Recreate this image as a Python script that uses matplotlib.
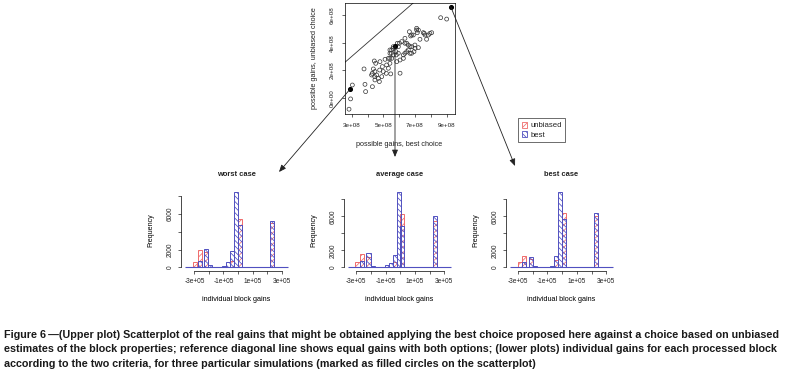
import matplotlib

matplotlib.use("Agg")
import matplotlib.pyplot as plt
import numpy as np
from matplotlib.patches import ConnectionPatch, Patch

plt.rcParams.update(
    {
        "font.family": ["Liberation Sans", "DejaVu Sans"],
        "hatch.linewidth": 0.55,
        "axes.linewidth": 0.5,
        "xtick.major.width": 0.5,
        "ytick.major.width": 0.5,
        "xtick.major.size": 2.5,
        "ytick.major.size": 2.5,
        "text.color": "#222222",
        "xtick.color": "#222222",
        "ytick.color": "#222222",
    }
)

W, H = 807, 380
RED = "#ef6b6b"
BLUE = "#5050c0"

# --- upper scatter: total gains per simulation (units of 1e8) ---
best_gain = [
    2.83, 2.93, 3.04, 3.84, 3.88, 3.78, 4.31, 4.43, 4.52, 4.37, 4.47, 4.26, 4.58, 4.69, 4.75,
    4.47, 4.90, 4.79, 4.94, 5.00, 5.11, 5.21, 5.32, 5.42, 5.42, 5.47, 5.53, 5.63, 5.63, 5.80,
    5.85, 5.89, 5.95, 6.06, 6.02, 6.16, 6.27, 6.37, 6.37, 6.48, 6.58, 6.65, 6.69, 6.73, 6.79,
    6.90, 6.94, 7.00, 7.11, 7.15, 7.22, 7.32, 7.53, 7.64, 7.74, 7.85, 7.95, 8.06, 8.63, 9.01,
    4.30, 4.46, 4.77, 5.19, 5.41, 5.51, 5.61, 5.82, 6.80, 7.11, 7.22, 7.59, 6.37, 6.58, 6.80,
    7.01, 6.48, 6.69, 6.27, 5.95, 5.53, 5.42, 5.32, 6.06,
]
unbiased_gain = [
    -0.84, -0.09, 0.92, 0.97, 0.44, 2.09, 0.80, 2.67, 2.50, 2.09, 1.90, 1.65, 1.65, 1.41, 1.17,
    1.29, 1.53, 2.62, 2.26, 1.90, 2.79, 2.38, 2.14, 2.50, 3.47, 1.73, 2.86, 3.11, 3.71, 3.35,
    2.62, 3.96, 3.23, 1.78, 3.96, 4.08, 2.86, 3.23, 4.32, 3.96, 3.47, 4.80, 3.71, 4.49, 3.23,
    4.56, 3.35, 3.83, 4.92, 4.73, 3.64, 4.25, 4.73, 4.56, 4.25, 4.56, 4.68, 4.73, 5.82, 5.72,
    1.77, 1.53, 2.01, 1.77, 2.86, 3.23, 3.59, 3.11, 4.56, 5.05, 4.92, 4.68, 3.96, 3.83, 3.71,
    3.59, 3.35, 3.23, 3.11, 3.71, 3.47, 3.23, 2.86, 2.74,
]
# the three simulations shown below (worst, average, best)
sel_best = [2.89, 5.74, 9.27]
sel_unbiased = [0.61, 3.78, 6.62]

# --- lower histograms: individual block gains (units of 1e5) ---
case_titles = ["worst case", "average case", "best case"]
unb_centers = [
    [-2.93, -2.64, -2.18, -0.39, 0.16, 2.35],
    [-2.92, -2.64, -2.17, -0.37, 0.14, 2.38],
    [-2.86, -2.59, -2.11, -0.38, 0.13, 2.30],
]
unb_counts = [
    [580, 1930, 1740, 770, 5480, 5000],
    [680, 1560, 1280, 600, 6280, 5480],
    [600, 1360, 960, 880, 6400, 6080],
]
best_centers = [
    [-2.64, -2.18, -1.90, -1.21, -0.94, -0.67, -0.39, -0.12, 0.16, 2.35],
    [-2.64, -2.17, -1.89, -1.16, -0.91, -0.64, -0.37, -0.11, 0.14, 2.38],
    [-2.59, -2.11, -1.84, -0.65, -0.38, -0.11, 0.13, 2.30],
]
best_counts = [
    [770, 2120, 310, 80, 190, 580, 1810, 8500, 4830, 5290],
    [800, 1680, 160, 80, 240, 560, 1440, 8880, 4880, 6000],
    [600, 1280, 160, 200, 1360, 8880, 5680, 6400],
]
break_ranges = [(-3.64, 3.43), (-3.56, 3.45), (-3.52, 3.45)]
BIN_W = 0.28

caption = [
    "Figure 6\u2009\u2014(Upper plot) Scatterplot of the real gains that might be obtained applying the best "
    "choice proposed here against a choice based on unbiased",
    "estimates of the block properties; reference diagonal line shows equal gains with both options; "
    "(lower plots) individual gains for each processed block",
    "according to the two criteria, for three particular simulations (marked as filled circles on the scatterplot)",
]


def px_box(left, top, width, height):
    return [left / W, 1 - (top + height) / H, width / W, height / H]


def px_pt(x, y):
    return (x / W, 1 - y / H)


fig = plt.figure(figsize=(W / 100, H / 100), dpi=100)

# scatter
ax_sc = fig.add_axes(px_box(344.5, 3, 110, 111))
ax_sc.scatter(np.array(best_gain) * 1e8, np.array(unbiased_gain) * 1e8, s=8,
              facecolors="none", edgecolors="#333333", linewidths=0.5)
ax_sc.scatter(np.array(sel_best) * 1e8, np.array(sel_unbiased) * 1e8, s=7, color="black")
ax_sc.axline((0, 0), (1e8, 1e8), color="#333333", lw=0.6)
ax_sc.set_xlim(2.544e8, 9.506e8)
ax_sc.set_ylim(-1.19e8, 6.89e8)
ax_sc.set_xticks(np.arange(3, 10) * 1e8)
ax_sc.set_xticklabels(["3e+08", "", "5e+08", "", "7e+08", "", "9e+08"], fontsize=4.5)
ax_sc.set_yticks(np.arange(0, 8, 2) * 1e8)
ax_sc.set_yticklabels(["0e+00", "2e+08", "4e+08", "6e+08"], fontsize=4.5, rotation=90, va="center")
ax_sc.tick_params(axis="x", pad=4.3)
ax_sc.tick_params(axis="y", pad=4.3)
fig.text(*px_pt(399.5, 144), "possible gains, best choice", fontsize=5.2, ha="center", va="center")
fig.text(*px_pt(315, 58.5), "possible gains, unbiased choice", fontsize=5.2, ha="center", va="center",
         rotation=90)

# histograms
lefts = [181, 344, 506]
for i, left in enumerate(lefts):
    ax = fig.add_axes(px_box(left, 189, 111, 81.5))
    ax.bar(unb_centers[i], unb_counts[i], width=BIN_W, facecolor="none", edgecolor=RED,
           hatch="//////", lw=0.7)
    ax.bar(best_centers[i], best_counts[i], width=BIN_W, facecolor="none", edgecolor=BLUE,
           hatch="\\\\\\\\\\\\", lw=0.7)
    lo, hi = break_ranges[i]
    ax.hlines(0, lo, hi, color=BLUE, lw=0.8)
    ymax = max(max(unb_counts[i]), max(best_counts[i]))
    span = hi - lo
    ax.set_xlim(lo - 0.04 * span, hi + 0.04 * span)
    ax.set_ylim(-0.04 * ymax, 1.04 * ymax)
    ax.spines["top"].set_visible(False)
    ax.spines["right"].set_visible(False)
    ax.spines["left"].set_bounds(0, 8000)
    ax.spines["bottom"].set_bounds(-3, 3)
    ax.set_xticks(np.arange(-3, 4))
    ax.set_xticklabels(["-3e+05", "", "-1e+05", "", "1e+05", "", "3e+05"], fontsize=4.7)
    ax.set_yticks(np.arange(0, 8001, 2000))
    ax.set_yticklabels(["0", "2000", "", "6000", ""], fontsize=4.7, rotation=90, va="center")
    ax.tick_params(axis="x", pad=3.0)
    ax.tick_params(axis="y", pad=2.5)
    ax.set_ylabel("Frequency", fontsize=5.1, labelpad=9)
    ax.set_xlabel("individual block gains", fontsize=5.2, labelpad=8)
    ax.patch.set_alpha(0)
    fig.text(*px_pt(left + 55.5, 174), case_titles[i], fontsize=5.4, fontweight="bold",
             ha="center", va="center")

leg = fig.legend(
    handles=[
        Patch(facecolor="none", edgecolor=RED, hatch="//////", lw=0.6, label="unbiased"),
        Patch(facecolor="none", edgecolor=BLUE, hatch="\\\\\\\\\\\\", lw=0.6, label="best"),
    ],
    loc="upper left",
    bbox_to_anchor=px_pt(518, 118),
    fontsize=5.6,
    frameon=True,
    fancybox=False,
    edgecolor="#333333",
    framealpha=1,
    handlelength=0.7,
    handleheight=0.9,
    handletextpad=0.4,
    borderpad=0.45,
    labelspacing=0.2,
    borderaxespad=0,
)
leg.get_frame().set_linewidth(0.5)

# arrows from the filled points to the three histograms
arrow_tips = [(279, 172), (395, 157), (515, 166)]
for (bx, uy), tip in zip(zip(sel_best, sel_unbiased), arrow_tips):
    con = ConnectionPatch(
        xyA=(bx * 1e8, uy * 1e8), coordsA=ax_sc.transData,
        xyB=px_pt(*tip), coordsB="figure fraction",
        arrowstyle="-|>,head_length=0.6,head_width=0.25", mutation_scale=7,
        color="#222222", lw=0.6, shrinkA=0, shrinkB=0,
    )
    fig.add_artist(con)

for k, line in enumerate(caption):
    fig.text(4 / W, 1 - (335 + 14.5 * k) / H, line, fontsize=7.78, fontweight="bold",
             ha="left", va="center", color="#1a1a1a")

fig.savefig("out.png", dpi=100)
